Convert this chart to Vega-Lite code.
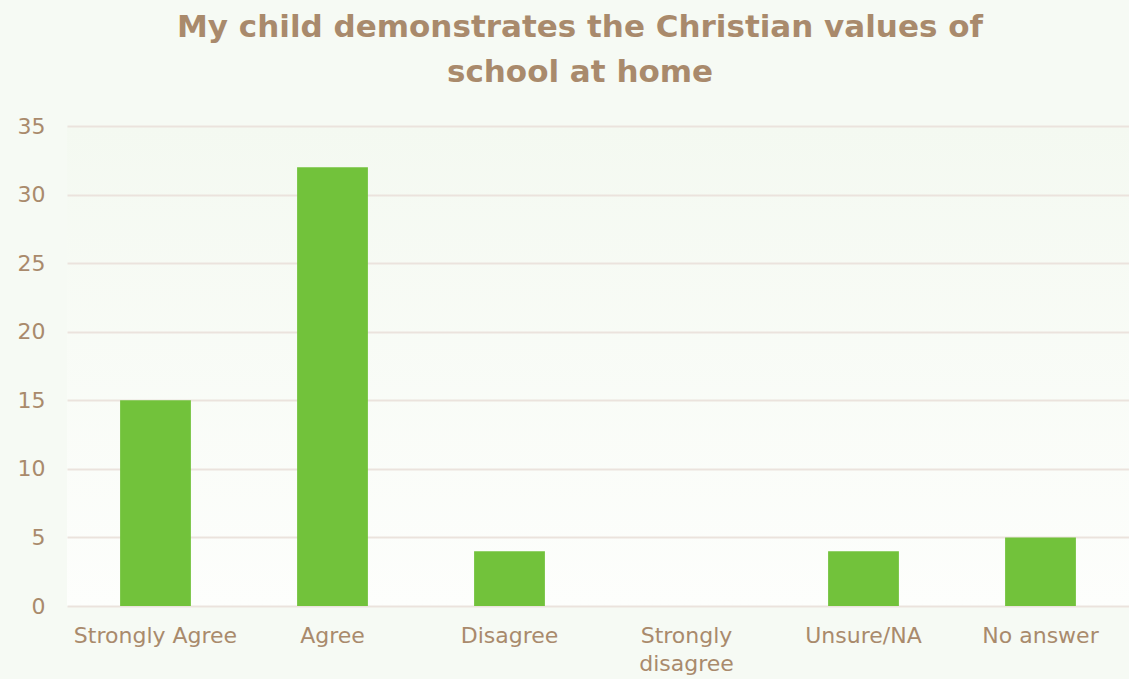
{
  "$schema": "https://vega.github.io/schema/vega-lite/v6.json",
  "width": 1062,
  "height": 480,
  "autosize": {"type": "none"},
  "padding": {"left": 67, "top": 126, "right": 0, "bottom": 73},
  "background": "#f6faf4",
  "title": {
    "text": ["My child demonstrates the Christian values of", "school at home"],
    "font": "DejaVu Sans",
    "fontSize": 31,
    "fontWeight": "bold",
    "color": "#a98a6c",
    "anchor": "middle",
    "dx": -18,
    "offset": 26,
    "lineHeight": 45
  },
  "config": {
    "view": {"stroke": null, "fill": {"gradient": "linear", "x1": 0, "y1": 0, "x2": 0, "y2": 1, "stops": [{"offset": 0, "color": "#f4f9f1"}, {"offset": 1, "color": "#fdfefc"}]}},
    "axis": {"labelFont": "DejaVu Sans", "labelColor": "#a98a6c", "labelFontSize": 22, "titleFont": "DejaVu Sans"}
  },
  "data": {
    "values": [
      {"response": "Strongly Agree", "count": 15},
      {"response": "Agree", "count": 32},
      {"response": "Disagree", "count": 4},
      {"response": "Strongly disagree", "count": 0},
      {"response": "Unsure/NA", "count": 4},
      {"response": "No answer", "count": 5}
    ]
  },
  "mark": {"type": "bar", "color": "#72c23b"},
  "encoding": {
    "x": {
      "field": "response",
      "type": "nominal",
      "sort": null,
      "scale": {"paddingInner": 0.6, "paddingOuter": 0.3},
      "axis": {
        "title": null,
        "labelAngle": 0,
        "domain": false,
        "ticks": false,
        "labelPadding": 19,
        "labelLineHeight": 28,
        "labelExpr": "datum.label == 'Strongly disagree' ? ['Strongly', 'disagree'] : datum.label"
      }
    },
    "y": {
      "field": "count",
      "type": "quantitative",
      "scale": {"domain": [0, 35], "nice": false},
      "axis": {
        "title": null,
        "values": [0, 5, 10, 15, 20, 25, 30, 35],
        "domain": false,
        "ticks": false,
        "gridColor": "#ebe3dd",
        "gridWidth": 2,
        "labelPadding": 22
      }
    }
  }
}
